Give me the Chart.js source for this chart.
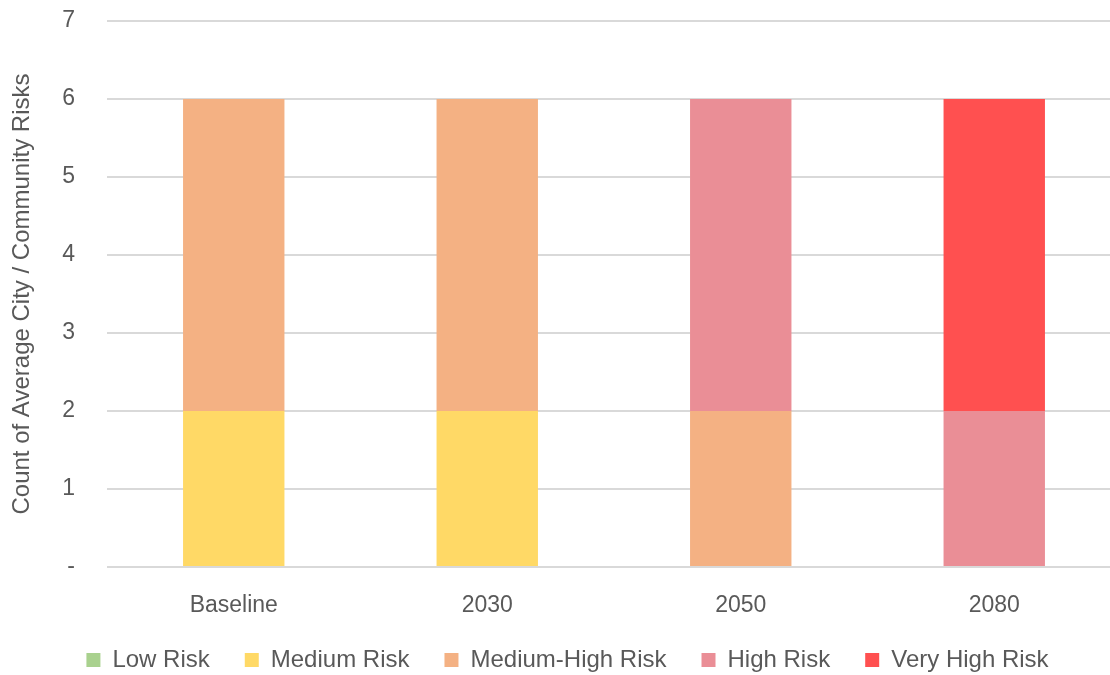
<!DOCTYPE html>
<html>
<head>
<meta charset="utf-8">
<script src="https://cdn.jsdelivr.net/npm/chart.js@4/dist/chart.umd.min.js"></script>
<style>
  html, body { margin: 0; padding: 0; background: #fff; overflow: hidden; }
  #wrap { width: 1121px; height: 675px; position: relative; }
</style>
</head>
<body>
<div id="wrap"><canvas id="chart"></canvas></div>
<script>
    // Chart data
    const periods = ['Baseline', '2030', '2050', '2080'];
    const lowRisk = [0, 0, 0, 0];
    const mediumRisk = [2, 2, 0, 0];
    const mediumHighRisk = [4, 4, 2, 0];
    const highRisk = [0, 0, 4, 2];
    const veryHighRisk = [0, 0, 0, 4];
    const yTicks = ['-', '1', '2', '3', '4', '5', '6', '7'];

    const fontFamily = '"Liberation Sans Narrow", "Liberation Sans", Arial, sans-serif';
    const textColor = '#595959';

    const series = [
        { label: 'Low Risk', data: lowRisk, color: '#A9D18E' },
        { label: 'Medium Risk', data: mediumRisk, color: '#FFD966' },
        { label: 'Medium-High Risk', data: mediumHighRisk, color: '#F4B183' },
        { label: 'High Risk', data: highRisk, color: '#EA8E96' },
        { label: 'Very High Risk', data: veryHighRisk, color: '#FF5050' }
    ];

    // fix legend height so the plot area lines up, then grow it upwards
    // (labels.padding also sets the top gap, which is too big here)
    const legendHeight = {
        id: 'legendHeight',
        beforeInit(chart) {
            const fit = chart.legend.fit;
            chart.legend.fit = function () {
                fit.call(this);
                this.height = 38;
            };
        },
        afterLayout(chart) {
            const lg = chart.legend;
            lg.top -= 24;
            lg.height += 24;
            lg.left += 7;
            lg.right += 7;
        }
    };

    const ctx = document.getElementById('chart').getContext('2d');
    const chart = new Chart(ctx, {
        type: 'bar',
        data: {
            labels: periods,
            datasets: series.map(s => ({
                label: s.label,
                data: s.data,
                backgroundColor: s.color,
                borderWidth: 0,
                barPercentage: 0.4,
                categoryPercentage: 1.0
            }))
        },
        plugins: [legendHeight],
        options: {
            responsive: true,
            maintainAspectRatio: false,
            animation: false,
            layout: { padding: 0 },
            plugins: {
                legend: {
                    position: 'bottom',
                    labels: {
                        color: textColor,
                        font: { family: fontFamily, size: 24 },
                        boxWidth: 14,
                        boxHeight: 14,
                        padding: 35
                    }
                },
                tooltip: { enabled: false }
            },
            scales: {
                x: {
                    stacked: true,
                    grid: { display: false },
                    border: { display: false },
                    afterFit: (scale) => { scale.height = 70; },
                    ticks: {
                        color: textColor,
                        font: { family: fontFamily, size: 23 },
                        padding: 17
                    }
                },
                y: {
                    stacked: true,
                    min: 0,
                    max: 7,
                    afterFit: (scale) => {
                        scale.width = 107;
                        scale.paddingTop = 21;
                        scale.paddingBottom = 12;
                    },
                    grid: { color: '#D9D9D9', lineWidth: 2, drawTicks: false },
                    border: { display: false },
                    ticks: {
                        stepSize: 1,
                        color: textColor,
                        font: { family: fontFamily, size: 23 },
                        padding: 32,
                        callback: (v) => yTicks[v]
                    },
                    title: {
                        display: true,
                        text: 'Count of Average City / Community Risks',
                        color: textColor,
                        font: { family: fontFamily, size: 24 },
                        padding: { top: 8, bottom: 0 }
                    }
                }
            }
        }
    });
</script>
</body>
</html>
